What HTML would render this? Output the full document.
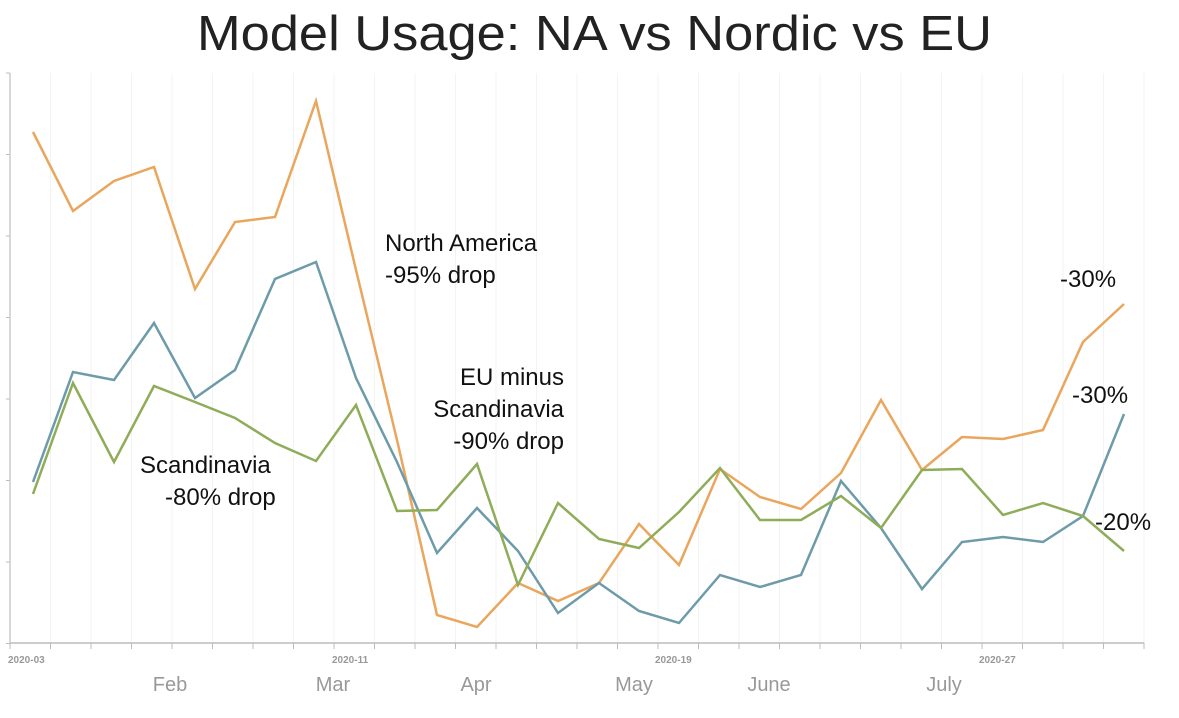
<!DOCTYPE html>
<html><head><meta charset="utf-8"><style>
html,body{margin:0;padding:0;background:#fff;}
svg text{font-family:"Liberation Sans",sans-serif;}
</style></head><body>
<svg width="1179" height="713" viewBox="0 0 1179 713" xmlns="http://www.w3.org/2000/svg">
<rect width="1179" height="713" fill="#fff"/>
<text x="197" y="50" font-size="49" font-weight="300" fill="#222" textLength="795" lengthAdjust="spacingAndGlyphs">Model Usage: NA vs Nordic vs EU</text>
<g id="grid" stroke="#f3f3f3" stroke-width="1"></g>
<g id="ticks" stroke="#bbb" stroke-width="1"></g>
<line x1="10" y1="73" x2="10" y2="643" stroke="#ccc" stroke-width="1.5"/>
<line x1="10" y1="643" x2="1144" y2="643" stroke="#bbb" stroke-width="1.5"/>
<g font-size="10" fill="#999" font-weight="bold">
<text x="8" y="663">2020-03</text>
<text x="332" y="663">2020-11</text>
<text x="655" y="663">2020-19</text>
<text x="979" y="663">2020-27</text>
</g>
<g font-size="20" fill="#999" text-anchor="middle">
<text x="170" y="691">Feb</text>
<text x="333" y="691">Mar</text>
<text x="476" y="691">Apr</text>
<text x="634" y="691">May</text>
<text x="769" y="691">June</text>
<text x="944" y="691">July</text>
</g>
<g fill="none" stroke-width="2.5" stroke-linejoin="miter">
<polyline stroke="#e9a65c" points="33,132 73,211 114,181 154,167 195,289 235,222 275,217 316,101 356,270 397,440 437,615 477,627 518,583 558,601 599,583 639,524 679,565 720,469 760,497 801,509 841,473 881,400 922,470 962,437 1003,439 1043,430 1083,342 1124,304"/>
<polyline stroke="#6d9ba9" points="33,482 73,372 114,380 154,323 195,398 235,370 275,279 316,262 356,378 397,462 437,553 477,508 518,551 558,613 599,583 639,611 679,623 720,575 760,587 801,575 841,481 881,528 922,589 962,542 1003,537 1043,542 1083,516 1124,414"/>
<polyline stroke="#8fac58" points="33,494 73,383 114,462 154,386 195,402 235,418 275,443 316,461 356,405 397,511 437,510 477,464 518,585 558,503 599,539 639,548 679,512 720,468 760,520 801,520 841,496 881,528 922,470 962,469 1003,515 1043,503 1083,516 1124,551"/>
</g>
<g font-size="24" fill="#111">
<text x="385" y="251">North America</text>
<text x="385" y="283">-95% drop</text>
<text x="564" y="385" text-anchor="end">EU minus</text>
<text x="564" y="417" text-anchor="end">Scandinavia</text>
<text x="564" y="449" text-anchor="end">-90% drop</text>
<text x="140" y="473">Scandinavia</text>
<text x="165" y="505">-80% drop</text>
<text x="1060" y="287">-30%</text>
<text x="1072" y="403">-30%</text>
<text x="1095" y="530">-20%</text>
</g>
<script>
var g=document.getElementById('grid'),t=document.getElementById('ticks'),ns='http://www.w3.org/2000/svg';
for(var i=0;i<=28;i++){var x=10+i*40.5;
var l=document.createElementNS(ns,'line');l.setAttribute('x1',x);l.setAttribute('x2',x);l.setAttribute('y1',73);l.setAttribute('y2',643);g.appendChild(l);
var k=document.createElementNS(ns,'line');k.setAttribute('x1',x);k.setAttribute('x2',x);k.setAttribute('y1',643);k.setAttribute('y2',649);t.appendChild(k);}
for(var j=0;j<8;j++){var y=73+j*81.5;var k2=document.createElementNS(ns,'line');k2.setAttribute('x1',6);k2.setAttribute('x2',10);k2.setAttribute('y1',y);k2.setAttribute('y2',y);t.appendChild(k2);}
</script>
</svg>
</body></html>
